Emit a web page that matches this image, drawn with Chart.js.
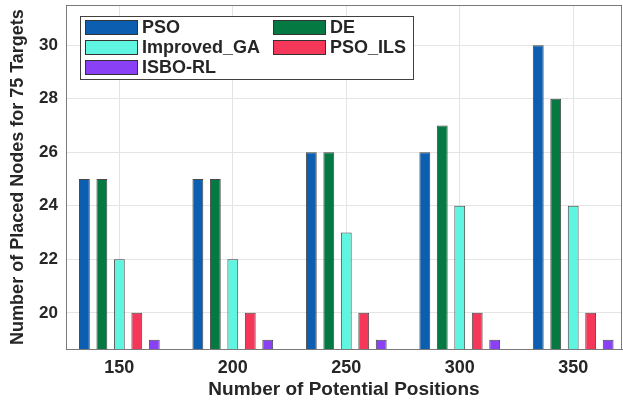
<!DOCTYPE html>
<html>
<head>
<meta charset="utf-8">
<script src="https://cdn.jsdelivr.net/npm/chart.js@4.4.1/dist/chart.umd.min.js"></script>
<style>
  html, body { margin: 0; padding: 0; background: #fff; }
  #wrap { width: 623px; height: 401px; }
</style>
</head>
<body>
<div id="wrap"><canvas id="bars" width="623" height="401"></canvas></div>
<script>
// positions on the x axis (number of potential positions)
let positions = [150, 200, 250, 300, 350];
let yTicks = [20, 22, 24, 26, 28, 30];

let valsPSO = [25, 25, 26, 26, 30];
let valsDE = [25, 25, 26, 27, 28];
let valsGA = [22, 22, 23, 24, 24];
let valsILS = [20, 20, 20, 20, 20];
let valsISBO = [19, 19, 19, 19, 19];

let colorPSO = "rgb(11, 94, 176)";
let colorDE = "rgb(4, 122, 66)";
let colorGA = "rgb(96, 245, 224)";
let colorILS = "rgb(245, 56, 90)";
let colorISBO = "rgb(138, 64, 245)";

let textCol = "#262626";
let fontFam = "'Liberation Sans', Arial, sans-serif";

function mkSet(label, data, color) {
  return {
    label: label,
    data: data,
    backgroundColor: color,
    borderColor: "rgba(40,40,40,0.85)",
    borderWidth: 1,
    categoryPercentage: 0.77,
    barPercentage: 0.62
  };
}

// legend box drawn inside the plot, matlab style, 2 columns
const boxLegend = {
  id: "boxLegend",
  afterDraw(chart) {
    const c = chart.ctx;
    const area = chart.chartArea;
    c.save();
    // axes box
    c.strokeStyle = "#7a7a7a";
    c.lineWidth = 1;
    c.strokeRect(area.left + 0.5, area.top + 0.5, area.right - area.left - 1, area.bottom - area.top);

    const x0 = 80, y0 = 16, w = 333, h = 63;
    c.fillStyle = "#fff";
    c.fillRect(x0, y0, w, h);
    c.strokeStyle = "#404040";
    c.strokeRect(x0 + 0.5, y0 + 0.5, w, h);
    c.font = "bold 18px " + fontFam;
    c.textBaseline = "middle";
    chart.data.datasets.forEach(function(ds, i) {
      const col = i % 2, row = Math.floor(i / 2);
      const sx = col === 0 ? 85 : 273;
      const cy = 27 + row * 20;
      c.fillStyle = ds.backgroundColor;
      c.fillRect(sx, cy - 7, 52, 14);
      c.strokeStyle = "#333";
      c.strokeRect(sx + 0.5, cy - 6.5, 52, 14);
      c.fillStyle = textCol;
      c.fillText(ds.label, sx + 57, cy + 1);
    });
    c.restore();
  }
};

new Chart(document.getElementById("bars"), {
  type: "bar",
  data: {
    labels: positions,
    datasets: [
      mkSet("PSO", valsPSO, colorPSO),
      mkSet("DE", valsDE, colorDE),
      mkSet("Improved_GA", valsGA, colorGA),
      mkSet("PSO_ILS", valsILS, colorILS),
      mkSet("ISBO-RL", valsISBO, colorISBO)
    ]
  },
  options: {
    responsive: false,
    animation: false,
    layout: { padding: { top: 5, right: 1, left: 0, bottom: 0 } },
    plugins: { legend: { display: false }, tooltip: { enabled: false } },
    scales: {
      x: {
        type: "linear",
        min: 126.5,
        max: 371.5,
        offset: false,
        afterBuildTicks: function(s) { s.ticks = positions.map(v => ({ value: v })); },
        afterFit: function(s) { s.height = 52; },
        grid: { offset: false, color: "#e4e4e4", drawTicks: false },
        border: { color: "#7a7a7a" },
        ticks: { color: textCol, padding: 8, font: { family: fontFam, size: 18, weight: "bold" } },
        title: {
          display: true,
          text: "Number of Potential Positions",
          color: textCol,
          padding: { top: 0, bottom: 0 },
          font: { family: fontFam, size: 19, weight: "bold" }
        }
      },
      y: {
        min: 18.65,
        max: 31.5,
        afterBuildTicks: function(s) { s.ticks = yTicks.map(v => ({ value: v })); },
        afterFit: function(s) {
          s.width = 66;
          s.paddingTop = 0;
          s.paddingBottom = 0;
        },
        grid: { color: "#e4e4e4", drawTicks: false },
        border: { color: "#7a7a7a" },
        ticks: { color: textCol, padding: 8, font: { family: fontFam, size: 17, weight: "bold" } },
        title: {
          display: true,
          text: "Number of Placed Nodes for 75 Targets",
          color: textCol,
          padding: { top: 7, bottom: 0 },
          font: { family: fontFam, size: 18, weight: "bold" }
        }
      }
    }
  },
  plugins: [boxLegend]
});
</script>
</body>
</html>
